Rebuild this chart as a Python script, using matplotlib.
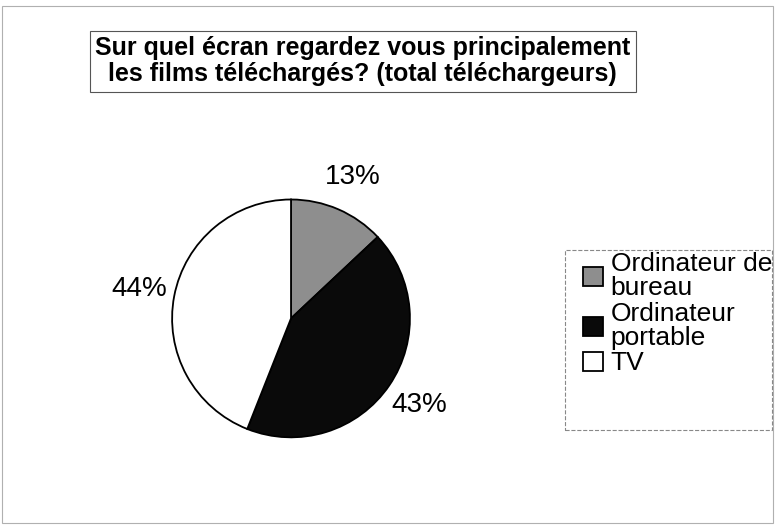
import matplotlib.pyplot as plt
from matplotlib.patches import Rectangle

plt.rcParams['font.family'] = ['Liberation Sans', 'DejaVu Sans']

categories = ["Ordinateur de\nbureau", "Ordinateur\nportable", "TV"]
values = [13, 43, 44]
colors = ["#8e8e8e", "#0a0a0a", "#ffffff"]
titre = "Sur quel écran regardez vous principalement\nles films téléchargés? (total téléchargeurs)"

fig = plt.figure(figsize=(7.75, 5.25), dpi=100)

# cadre extérieur
fig.patches.append(Rectangle((0.003, 0.003), 0.994, 0.985, transform=fig.transFigure,
                             fill=False, edgecolor="#b0b0b0", linewidth=0.8))

ax = fig.add_axes([0.222, 0.167, 0.307, 0.453])
wedges, texts, autotexts = ax.pie(values, colors=colors, startangle=90, counterclock=False,
                                  autopct="%.0f%%", pctdistance=1.3,
                                  wedgeprops=dict(edgecolor="black", linewidth=1.3),
                                  textprops=dict(fontsize=20))
ax.set_xlim(-1, 1)
ax.set_ylim(-1, 1)
ax.set_aspect("equal")

fig.text(0.468, 0.883, titre, ha="center", va="center", fontsize=18, fontweight="bold",
         linespacing=1.1,
         bbox=dict(boxstyle="square,pad=0.22", facecolor="white", edgecolor="#555555", linewidth=0.8))

# cadre de la légende
fig.patches.append(Rectangle((0.729, 0.181), 0.267, 0.343, transform=fig.transFigure,
                             fill=False, edgecolor="#888888", linestyle="--", linewidth=0.8))

leg = fig.legend(wedges, categories, loc="upper left", bbox_to_anchor=(0.752, 0.52),
                 fontsize=19, frameon=False, handlelength=0.75, handleheight=0.75,
                 handletextpad=0.3, labelspacing=0.05, borderpad=0, borderaxespad=0)
for t in leg.get_texts():
    t.set_linespacing(1.02)

fig.savefig("out.png", dpi=100)
